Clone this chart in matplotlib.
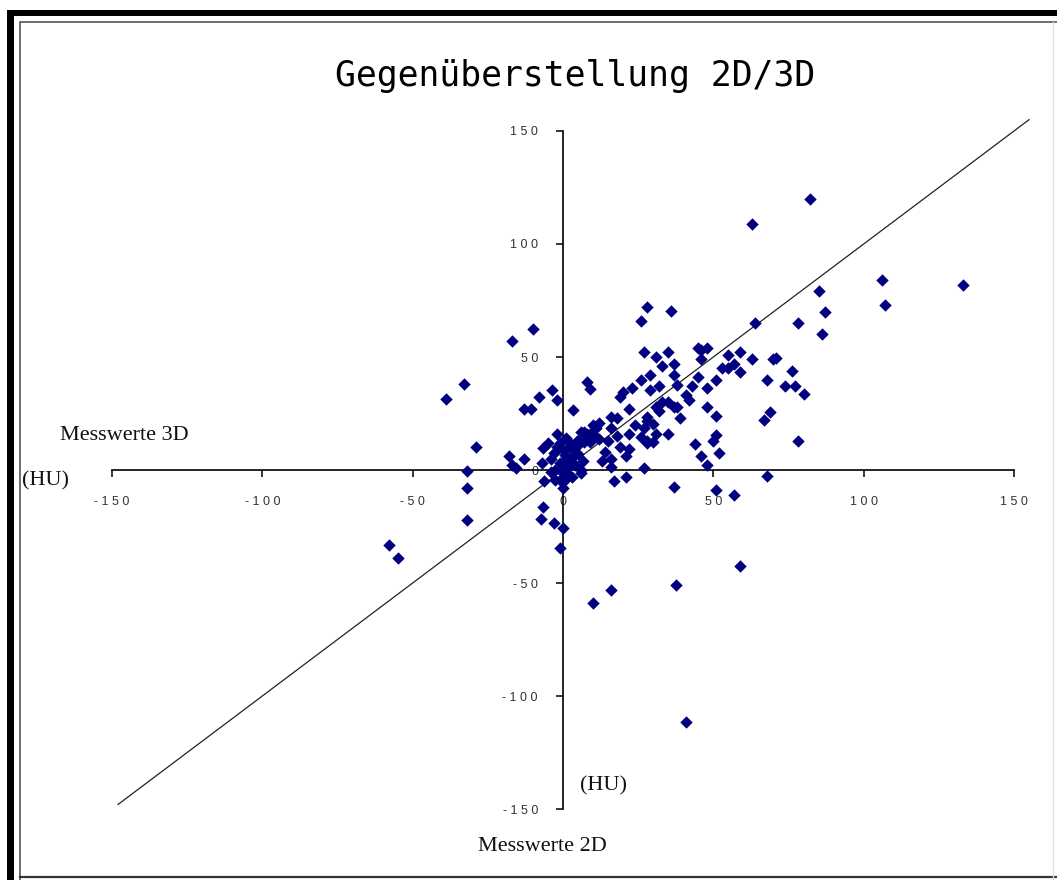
import matplotlib.pyplot as plt
from matplotlib.patches import Rectangle

# Messwerte 2D (x) und 3D (y) in HU
x_2d = [82, 63, 106, 133, 85, 107, 87, 78, 64, 86,
        59, 63, 70, 71, 76, 68, 74, 77, 80, 69, 67, 78, 68, 59,
        28, 36, 26, 27, 31, 35, 45, 48, 46, 55, 46, 33, 37, 57, 53, 55,
        37, 26, 29, 51, 45, 8, 9, 38, 23, 20, 29, 32, 43, 48, 41, 42,
        19, 31, 33, 35, 37, 38, 22, 48, 51, 39, 32, 16, 18, 28, 28, 30,
        27, 10, 11, 16, 7, 22, 26, 28, 31, 35, 30, 28, 15, 12, 5, 8,
        19, 22, 21, 16, 16, 44, 51, 50, 46, 52, 48, 27, 17, 21, 37, 51,
        57, 0, 6, 6, 3.4, 1.2,
        -10, -17, -33, -39, -3.5, -8, -2, 3.4, -13, -10.5, -29, -18, -13,
        -6.6, -2, -17, -15.5, -32, -32, -32, -58, -55, -6.3, -6.6, -7.4,
        -3, -1,
        41, 59, 37.6, 16, 10,
        6, 8, -1, -7, -4, -3, 0, 2, 3.4, 5, 4.6, 7, 1.2, -1, 3, -2.7,
        -0.4, 1.2, -1, -2.7, 0.4, 0, 11, 12, 10.7, 9,
        2, 4, -4, 1, -5, 3, 14, 18, 24, 13,
        -2, 5, 9, 0.5, 2.5, 6.5]
y_3d = [120, 109, 84, 82, 79, 73, 70, 65, 65, 60,
        52, 49, 49, 49.5, 44, 40, 37, 37, 33.5, 25.5, 22, 13, -2.5, 43.5,
        72, 70.5, 66, 52, 50, 52, 54, 54, 53, 51, 49, 46, 47, 47, 45, 45,
        42, 40, 42, 40, 41, 39, 36, 37.5, 36.5, 34.5, 35.5, 37, 37, 36.5, 33, 31,
        32.5, 28, 30, 30, 28, 28, 27, 28, 24, 23, 26, 23.5, 23, 23.5, 21.5, 20.5,
        18.5, 20, 18.5, 18.5, 17, 16, 14.5, 13, 16, 16, 12.5, 12, 13, 13.5, 13, 14,
        10, 9.5, 6, 5, 1.5, 11.5, 15.5, 13, 6, 7.5, 2, 0.7, -4.7, -3, -7.4, -9,
        -11, -25.5, 0, -1.5, 6, 3,
        62.5, 57, 38, 31.5, 35.5, 32.5, 31, 26.5, 27, 27, 10, 6, 5,
        9.6, 16, 2, 0.7, -0.6, -8, -22, -33, -39, -5, -16.5, -21.5,
        -23.6, -34.5,
        -111.5, -42.5, -51, -53, -59,
        17, 16, 12, 3, 5, 7.4, 9, 10, 9, 11, 13, 12.5, 5, 3, 3, 0,
        -0.7, 0.7, -4.4, -4.4, -5, -8, 14.7, 20.7, 19, 12.5,
        -2, 2, -1, 14, 12, -3, 8, 15, 20, 4,
        10, 7, 16, 6.5, 11.5, 4]

ticks = [-150, -100, -50, 0, 50, 100, 150]
tick_labels = [' '.join(str(t)) for t in ticks]

W, H = 1057, 880
fig = plt.figure(figsize=(W / 100, H / 100), dpi=100)

# Rahmen
bg = fig.add_axes([0, 0, 1, 1], zorder=0)
bg.set_xlim(0, W)
bg.set_ylim(H, 0)
bg.axis('off')
bg.add_patch(Rectangle((7, 10), W - 7, 6.5, color='black', lw=0))
bg.add_patch(Rectangle((7, 10), 6.5, H - 10, color='black', lw=0))
bg.plot([20, 20, W], [H, 22, 22], color='#555555', lw=1.2)
bg.plot([20, W], [877.5, 877.5], color='#333333', lw=1.6)
bg.plot([1053, 1053], [22, H], color='#dddddd', lw=1)

ax = fig.add_axes([112 / W, 71 / H, 902 / W, 678 / H], zorder=1)
ax.patch.set_visible(False)
ax.set_xlim(-150, 150)
ax.set_ylim(-150, 150)

ax.spines['left'].set_position(('data', 0))
ax.spines['bottom'].set_position(('data', 0))
ax.spines['right'].set_visible(False)
ax.spines['top'].set_visible(False)
for s in ('left', 'bottom'):
    ax.spines[s].set_linewidth(1.2)
    ax.spines[s].set_color('black')

ax.set_xticks(ticks)
ax.set_yticks(ticks)
ax.set_xticklabels(tick_labels)
ax.set_yticklabels(tick_labels)
ax.tick_params(direction='out', length=5, width=1.1, colors='black',
               labelcolor='#333333', labelsize=9)
ax.tick_params(axis='x', pad=14)
ax.tick_params(axis='y', pad=13)
for lab in ax.get_xticklabels() + ax.get_yticklabels():
    lab.set_family('Liberation Sans')

# Winkelhalbierende
ax.plot([-148, 155], [-148, 155], color='#222222', lw=0.9, clip_on=False)

ax.scatter(x_2d, y_3d, marker='D', s=40, color='#000080', linewidths=0,
           zorder=3, clip_on=False)

def px_text(x, y, s, **kw):
    fig.text(x / W, 1 - y / H, s, va='baseline', **kw)

px_text(575, 86, 'Gegenüberstellung 2D/3D', family='DejaVu Sans Mono',
        fontsize=25, ha='center')
serif = dict(family='Liberation Serif', fontsize=16, color='#111111')
px_text(60, 440, 'Messwerte 3D', ha='left', **serif)
px_text(22, 485, '(HU)', ha='left', **serif)
px_text(580, 790, '(HU)', ha='left', **serif)
px_text(478, 851, 'Messwerte 2D', ha='left', **serif)

fig.savefig('out.png', dpi=100)
